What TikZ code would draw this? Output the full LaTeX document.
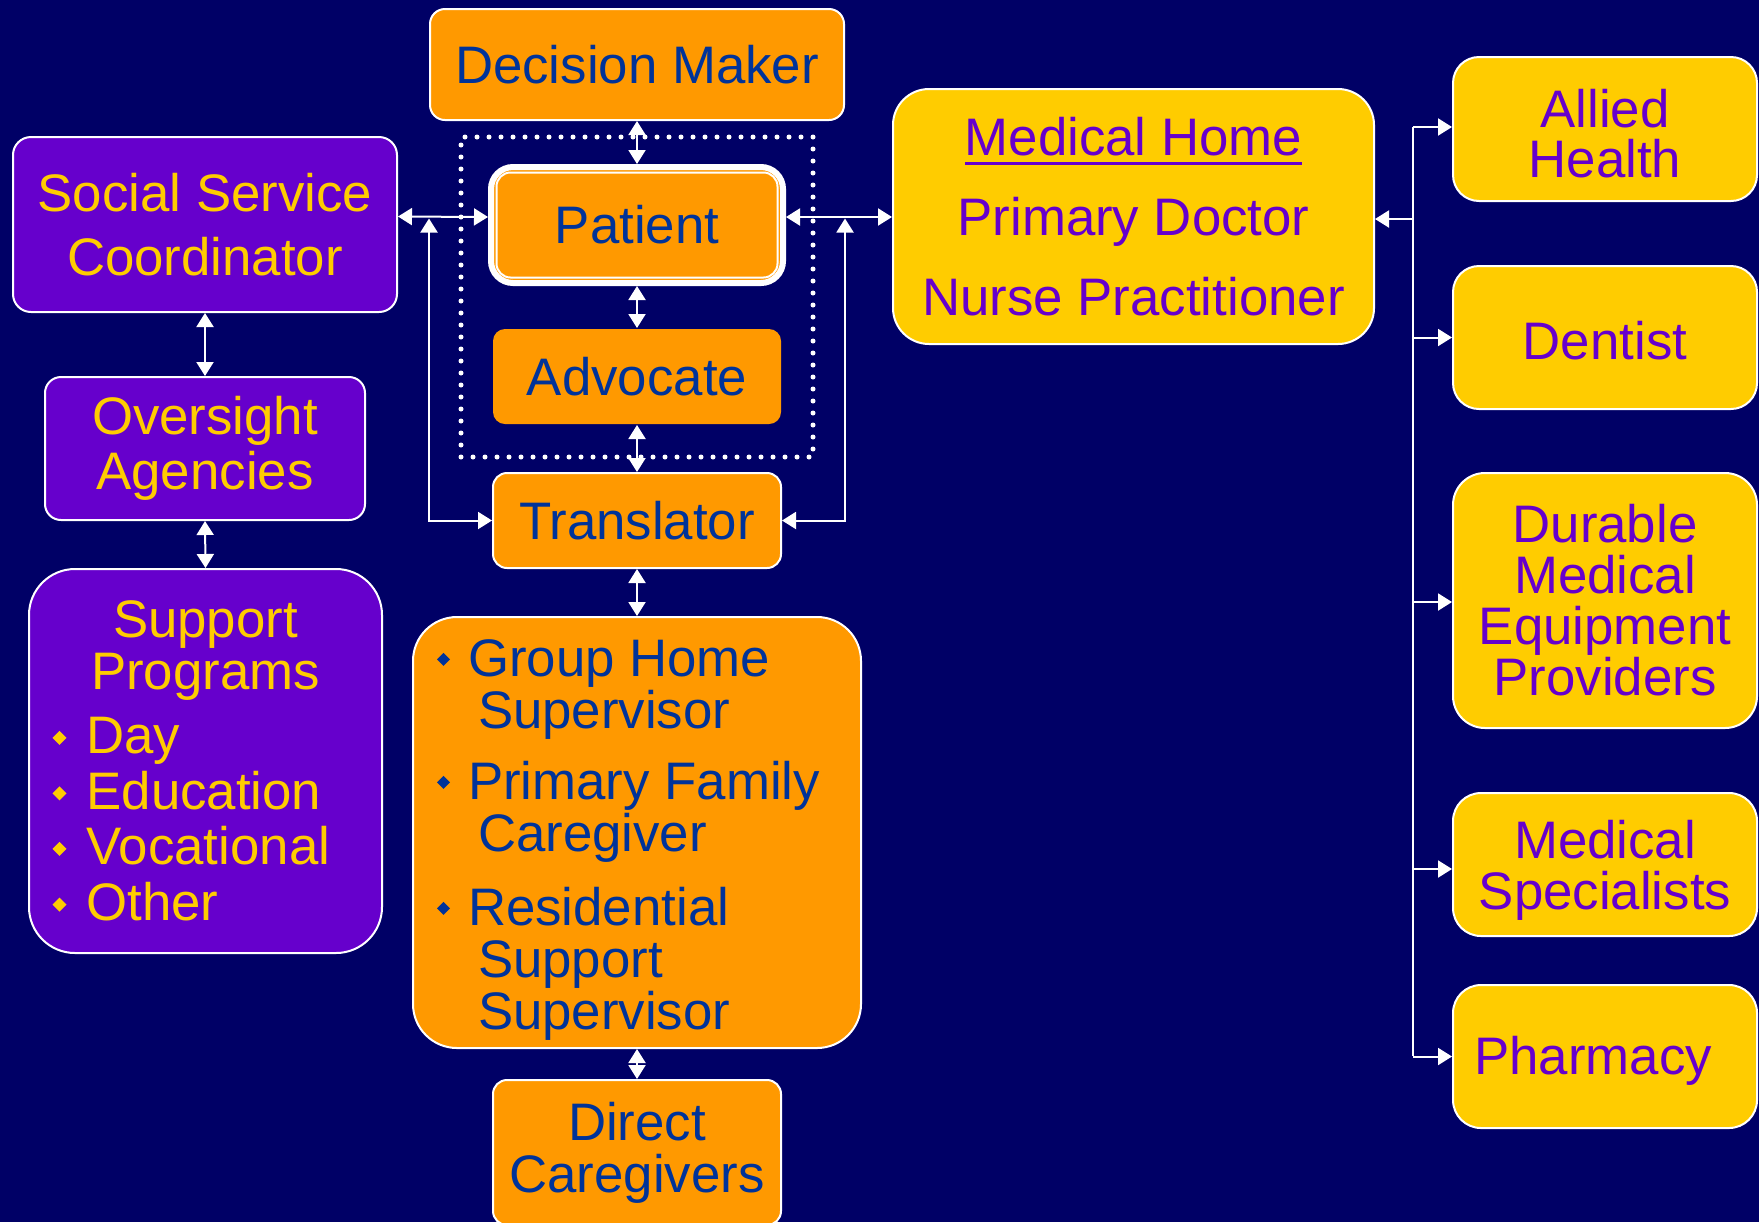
\documentclass[tikz,border=0pt]{standalone}
\usepackage{fontspec}
\setmainfont{Liberation Sans}
\usetikzlibrary{arrows.meta}
\definecolor{bg}{HTML}{000066}
\definecolor{org}{HTML}{FF9900}
\definecolor{blu}{HTML}{003399}
\definecolor{pur}{HTML}{6600CC}
\definecolor{yel}{HTML}{FFCC00}
\newcommand\fs[1]{\fontsize{26.4}{#1}\selectfont}
\newcommand\ulmh[1]{\setbox0\hbox{#1}\rlap{\rule[-5pt]{\wd0}{1.8pt}}\box0}
\newcommand\bulY{\makebox[17pt][l]{\tikz[baseline=0pt]\fill[yel, sharp corners] (0pt,8pt)--(3.5pt,11.5pt)--(7pt,8pt)--(3.5pt,4.5pt)--cycle;}}
\newcommand\bulB{\makebox[15.5pt][l]{\tikz[baseline=0pt]\fill[blu, sharp corners] (0pt,8.5pt)--(3.25pt,11.75pt)--(6.5pt,8.5pt)--(3.25pt,5.25pt)--cycle;}}
\begin{document}
\begin{tikzpicture}[x=0.5pt,y=-0.5pt,
  arr/.style={white, line width=1pt, -{Triangle[width=8.5pt,length=7pt]}},
  darr/.style={white, line width=1pt, {Triangle[width=8.5pt,length=7pt]}-{Triangle[width=8.5pt,length=7pt]}},
  bx/.style={draw=white, line width=1pt, inner sep=0pt, align=center, shape=rectangle},
  obox/.style={bx, fill=org, text=blu},
  pbox/.style={bx, fill=pur, text=yel},
  ybox/.style={bx, fill=yel, text=pur},
  sz/.style 2 args={minimum width=#1, minimum height=#2},
  dotbox/.style={draw=white, line width=2.5pt, line cap=round, dash pattern=on 0pt off 6pt, inner sep=0pt}
]
\useasboundingbox (0,0) rectangle (1759,1222);
\fill[bg] (0,0) rectangle (1759,1222);
\clip (0,0) rectangle (1759,1222);

% dotted group
\node[dotbox, sz={176pt}{160pt}] (grp) at (637,297) {};

% centre column
\node[obox, rounded corners=7.5pt, sz={207pt}{55.5pt}, font=\fs{26}] (dm) at (637,64.5) {Decision Maker};
\node[obox, line width=3pt, rounded corners=11pt, sz={146pt}{58pt}, font=\fs{26}] (pat) at (637,225) {Patient};
\draw[white, line width=1pt, rounded corners=7pt] ([shift={(8.5,8.5)}]pat.north west) rectangle ([shift={(-8.5,-8.5)}]pat.south east);
\node[obox, draw=none, rounded corners=6pt, sz={144pt}{47.5pt}, font=\fs{26}] (adv) at (637,376.5) {Advocate};
\node[obox, rounded corners=7pt, sz={144pt}{47.5pt}, font=\fs{26}] (trn) at (637,520.5) {Translator};
\node[obox, rounded corners=22pt, sz={224pt}{215.5pt}] (grh) at (637,832.5) {\begin{minipage}{200pt}\fs{26}\raggedright
\vspace*{7.5pt}
\bulB Group Home\\
\hspace*{20.5pt}Supervisor\\[9.5pt]
\bulB Primary Family\\
\hspace*{20.5pt}Caregiver\\[11pt]
\bulB Residential\\
\hspace*{20.5pt}Support\\
\hspace*{20.5pt}Supervisor\end{minipage}};
\node[obox, rounded corners=7pt, sz={144pt}{72.5pt}, font=\fs{26}] (dcg) at (637,1152.5) {Direct\\Caregivers};

% left column
\node[pbox, rounded corners=9pt, sz={192pt}{87.5pt}, font=\fs{32}] (ssc) at (205,224.5) {Social Service\\Coordinator};
\node[pbox, rounded corners=8pt, sz={160pt}{71.5pt}, font=\fs{27.5}] (ova) at (205,448.5) {Oversight\\Agencies};
\node[pbox, rounded corners=23pt, sz={176.5pt}{192pt}] (spp) at (205.5,761) {\begin{minipage}{153pt}\fs{26}\centering Support\\Programs\par\vspace{6pt}\raggedright
\bulY Day\\[1.8pt]
\bulY Education\\[1.8pt]
\bulY Vocational\\[1.8pt]
\bulY Other\end{minipage}};

% medical home and right column
\node[ybox, rounded corners=18pt, sz={240.5pt}{127.5pt}, font=\fs{40}] (mh) at (1133.5,216.5) {\ulmh{Medical Home}\\Primary Doctor\\Nurse Practitioner};
\node[ybox, rounded corners=13pt, sz={152pt}{72pt}, font=\fs{25}] (ah) at (1605,129) {\rule{0pt}{23.5pt}Allied\\Health};
\node[ybox, rounded corners=13pt, sz={152pt}{71.5pt}, font=\fs{26}, text height=22pt, text depth=0pt] (den) at (1605,337.5) {Dentist};
\node[ybox, rounded corners=16pt, sz={152pt}{127.5pt}, font=\fs{25.5}] (dme) at (1605,600.5) {Durable\\Medical\\Equipment\\Providers};
\node[ybox, rounded corners=14pt, sz={152pt}{71.5pt}, font=\fs{25.5}, text depth=0pt] (msp) at (1605,864.5) {Medical\\Specialists};
\node[ybox, rounded corners=14pt, sz={152pt}{71.5pt}, font=\fs{26}, text depth=1pt] (phm) at (1605,1056.5) {\makebox{Pharmacy\hspace{12pt}}};

% vertical chain
\draw[darr] (dm.south) -- (pat.north);
\draw[darr] (pat.south) -- (adv.north);
\draw[darr] (adv.south) -- (trn.north);
\draw[darr] (trn.south) -- (grh.north);
\draw[darr] (grh.south) -- (dcg.north);

% horizontal links to patient
\draw[darr] ([yshift=4pt]ssc.east) -- ([yshift=4pt]pat.west);
\draw[darr] ([yshift=4pt]pat.east) -- ([yshift=4pt]pat.east -| mh.west);
\coordinate (lj) at (429,218.5);
\coordinate (rj) at (845,218.5);
\draw[darr] (lj) |- (trn.west);
\draw[darr] (rj) |- (trn.east);

% left chain
\draw[darr] (ssc.south) -- (ova.north);
\draw[darr] (ova.south) -- (spp.north);

% right trunk
\coordinate (tt) at (1413,127);
\coordinate (tb) at (1413,1056);
\draw[white, line width=1pt] (tt) -- (tb);
\draw[arr] ([yshift=-1.25pt]mh.east -| tt) -- ([yshift=-1.25pt]mh.east);
\draw[arr] ([yshift=1pt]ah.west -| tt) -- ([yshift=1pt]ah.west);
\draw[arr] (den.west -| tt) -- (den.west);
\draw[arr] ([yshift=-0.75pt]dme.west -| tt) -- ([yshift=-0.75pt]dme.west);
\draw[arr] ([yshift=-2.25pt]msp.west -| tt) -- ([yshift=-2.25pt]msp.west);
\draw[arr] (phm.west -| tt) -- (phm.west);
\end{tikzpicture}
\end{document}
